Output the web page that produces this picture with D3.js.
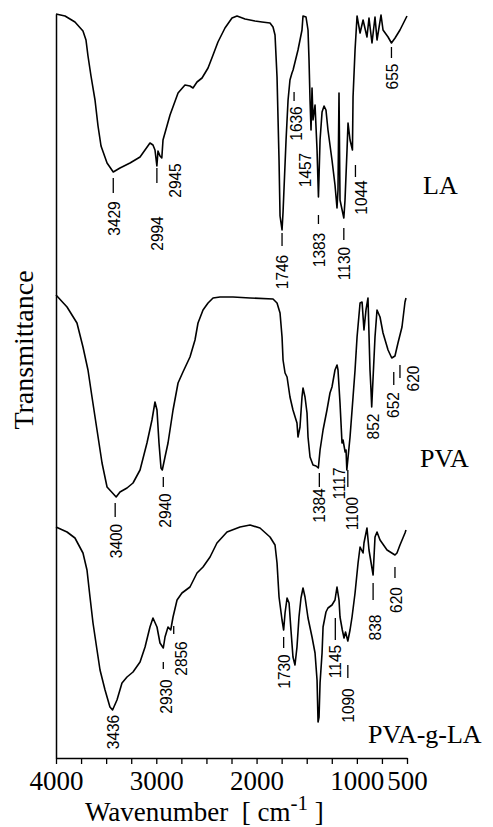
<!DOCTYPE html>
<html>
<head>
<meta charset="utf-8">
<script src="https://cdn.jsdelivr.net/npm/d3@7"></script>
<style>
  html, body { margin: 0; padding: 0; background: #fff; }
  svg { display: block; }
</style>
</head>
<body>
<svg id="chart" width="493" height="827"></svg>
<script>
// FTIR spectra of LA, PVA and PVA-g-LA, stacked with a vertical offset (arbitrary units)

// LA
const laWn = [4000,3910,3811,3731,3701,3681,3651,3611,3581,3551,3491,3429,3362,3262,3162,3063,3033,3013,2994,2983,2963,2945,2933,2863,2783,2714,2664,2634,2594,2544,2484,2434,2385,2315,2245,2195,2115,2016,1946,1866,1836,1816,1796,1776,1766,1746,1736,1706,1686,1667,1647,1636,1587,1547,1537,1507,1487,1477,1467,1457,1447,1437,1417,1397,1383,1367,1347,1327,1308,1288,1248,1218,1198,1188,1178,1168,1130,1118,1098,1088,1068,1044,1038,1018,998,968,938,899,879,849,819,799,759,739,689,655,619,570,510,500];
const laT  = [372,371,368,363.5,359,351,341,329,316,306,297.5,293,295,297.5,300.5,307.5,306.5,304,296,303.5,301,300,309,321.5,332.5,336.5,336,335,338,340,345,351.5,358,365,370,371,369.5,368.5,368,367.5,365.5,361.5,340.5,299,271,264,273,309,329,339,342.5,344,354,364,371,370.5,364,349,329,314,335,319,326.5,304,280.5,309,323,326,324,314,299,286.5,275,284,332.5,279,270,279,304,317.5,309,304,330.5,354,371,362.5,369,360.5,370,357.5,370.5,359,371.5,364,360.5,357.5,360,364,370,371];

// PVA
const pvaWn = [4000,3890,3791,3731,3681,3641,3591,3541,3491,3400,3362,3292,3232,3162,3093,3043,3013,2993,2973,2953,2940,2913,2883,2833,2783,2734,2664,2614,2584,2534,2484,2434,2365,2235,2065,1836,1796,1766,1746,1736,1716,1696,1667,1637,1597,1587,1567,1547,1537,1517,1497,1487,1467,1437,1407,1384,1367,1337,1298,1268,1248,1218,1198,1188,1168,1148,1138,1117,1108,1100,1068,1038,1018,998,968,948,929,909,889,869,859,852,819,799,769,739,689,652,620,590,550,520,510];
const pvaT  = [231.5,225.5,217.5,205.5,194,180.5,164,147.5,135.5,130.5,133,135,137.5,144,157.5,169,178,174,157.5,145,144,150.5,157.5,174,187.5,193,200.5,209,217.5,224,227.5,230,230.5,230.5,230,229.5,227.5,222.5,210.5,199,192.5,190.5,180.5,174,167.5,160.5,165.5,180.5,185,180.5,172.5,160.5,150.5,146.5,146,145,154,164,174,182.5,185.5,194,196.5,194,177.5,157.5,159,153,154,144,160.5,180.5,194,210.5,227.5,228,214,224,230,194,184,175.5,210.5,224,220.5,212.5,204,200,201,207.5,215.5,228,230];

// PVA-g-LA
const graftWn = [4000,3890,3811,3731,3691,3661,3631,3591,3561,3511,3462,3436,3392,3342,3292,3232,3162,3112,3063,3033,2993,2963,2930,2913,2883,2856,2833,2793,2744,2664,2594,2534,2464,2395,2295,2165,2065,1966,1866,1816,1796,1776,1746,1730,1716,1696,1676,1657,1637,1617,1597,1577,1557,1537,1517,1487,1447,1417,1397,1387,1377,1367,1347,1337,1308,1288,1248,1218,1198,1178,1168,1145,1128,1113,1090,1068,1048,1018,988,968,938,929,909,899,879,838,819,799,769,699,620,600,570,520,510];
const graftT  = [115.5,113,110,102.5,94,80.5,67.5,54,44,34,25.5,24,29,37.5,40.5,43,48,55.5,65.5,70,65.5,57.5,55,60.5,65.5,64,70.5,79,82.5,85.5,92.5,95.5,100.5,107.5,113,115.5,116.5,115,110.5,106.5,97.5,80.5,69,64,72.5,80,77.5,64,50.5,46.5,55.5,70.5,80,85,80.5,70,60.5,52.5,39,18,20.5,37.5,52.5,65.5,73,75,76.5,79,85.5,79,70.5,64,60,63,58.5,64,70.5,82.5,97.5,105.5,102.5,107.5,112.5,115,104,91.5,110.5,113,109,104,101.5,102.5,106.5,112.5,114];

// Peak assignments (cm-1) for each spectrum
const laPeaks    = [3429, 2994, 2945, 1746, 1636, 1457, 1383, 1130, 1044, 655];
const pvaPeaks   = [3400, 2940, 1384, 1117, 1100, 852, 652, 620];
const graftPeaks = [3436, 2930, 2856, 1730, 1145, 1090, 838, 620];

const seriesNames = ["LA", "PVA", "PVA-g-LA"];

// Axis ticks
const xTickValues = [4000,3750,3500,3250,3000,2750,2500,2250,2000,1750,1500,1250,1000,750,500];
const xTickLabels = [4000, 3000, 2000, 1000, 500];

// ---------- layout ----------
const plotLeft = 56, plotRight = 407, plotTop = 14, plotBottom = 758;

// annotation layout: text centre dx, text centre y, peak-marker [top, bottom] (null = none), marker dx
const laLayout = [
  {dx: 0, ty: 218.5, tick: [178, 193], tdx: 0},
  {dx: 0, ty: 233.5, tick: [168, 183], tdx: 0},
  {dx: 13, ty: 180.5, tick: null, tdx: 0},
  {dx: 0, ty: 272, tick: [233, 246], tdx: 0},
  {dx: 3, ty: 123.5, tick: [92, 101], tdx: 1},
  {dx: -6, ty: 170, tick: null, tdx: 0},
  {dx: 0, ty: 250, tick: [215, 224], tdx: 0},
  {dx: 0, ty: 263.5, tick: [228, 240], tdx: 0},
  {dx: 8, ty: 197.5, tick: [165, 177], tdx: 3},
  {dx: 0, ty: 76.5, tick: [47, 58], tdx: 0}
];
const pvaLayout = [
  {dx: -1, ty: 541, tick: [503, 517], tdx: -1},
  {dx: 2, ty: 510.5, tick: [477, 487], tdx: 1},
  {dx: 0, ty: 505.5, tick: [473, 487], tdx: 1},
  {dx: -6, ty: 483.5, tick: null, tdx: 0},
  {dx: 5, ty: 513.5, tick: [470, 487], tdx: 1},
  {dx: 1, ty: 426.5, tick: null, tdx: 0},
  {dx: 1, ty: 405, tick: [372, 385], tdx: 2},
  {dx: 18, ty: 378.5, tick: [365, 378], tdx: 5}
];
const graftLayout = [
  {dx: 0, ty: 732, tick: null, tdx: 0},
  {dx: 2, ty: 696.5, tick: [662, 669], tdx: 0},
  {dx: 10, ty: 658.5, tick: [626, 634], tdx: 3},
  {dx: 0, ty: 671.5, tick: [637, 648], tdx: 0},
  {dx: -8, ty: 661.5, tick: [618, 640], tdx: -7},
  {dx: 0, ty: 705.5, tick: [665, 678], tdx: 0},
  {dx: 2, ty: 627.5, tick: [583, 600], tdx: 0},
  {dx: 1, ty: 600, tick: [567, 578], tdx: 0}
];
const nameLayout = [
  {x: 423, y: 194},
  {x: 420, y: 467},
  {x: 368, y: 743}
];

const serif = "'Liberation Serif', 'Times New Roman', serif";
const sans = "'Liberation Sans', Arial, sans-serif";

const svg = d3.select("#chart");

const x = d3.scaleLinear().domain([4000, 500]).range([plotLeft, plotRight]);
const y = d3.scaleLinear().domain([0, 372]).range([plotBottom, plotTop]);

const line = d3.line()
  .x(d => x(d[0]))
  .y(d => y(d[1]));

const spectra = [
  d3.zip(laWn, laT),
  d3.zip(pvaWn, pvaT),
  d3.zip(graftWn, graftT)
];

svg.append("g")
  .selectAll("path")
  .data(spectra)
  .join("path")
  .attr("d", line)
  .attr("fill", "none")
  .attr("stroke", "#000")
  .attr("stroke-width", 1.6)
  .attr("stroke-linejoin", "round");

// bottom axis
const xAxis = d3.axisBottom(x)
  .tickValues(xTickValues)
  .tickSize(6)
  .tickSizeOuter(0)
  .tickFormat(d => xTickLabels.includes(d) ? String(d) : "");

const gx = svg.append("g")
  .attr("transform", `translate(0,${plotBottom})`)
  .call(xAxis);
gx.select(".domain").attr("stroke", "#000").attr("stroke-width", 1.5);
gx.selectAll(".tick line").attr("stroke", "#000").attr("stroke-width", 1.3);
gx.selectAll(".tick text")
  .attr("y", 13)
  .attr("fill", "#000")
  .style("font-family", serif)
  .style("font-size", "27px");

// left axis (line only)
const gy = svg.append("g")
  .attr("transform", `translate(${plotLeft},0)`)
  .call(d3.axisLeft(y).tickValues([]).tickSizeOuter(0));
gy.select(".domain").attr("stroke", "#000").attr("stroke-width", 1.5);

// axis titles
const xTitle = svg.append("text")
  .attr("x", 85)
  .attr("y", 821)
  .attr("fill", "#000")
  .attr("xml:space", "preserve")
  .style("white-space", "pre")
  .style("font-family", serif)
  .style("font-size", "27px");
xTitle.append("tspan").text("Wavenumber  [ cm");
xTitle.append("tspan").attr("dy", -11).style("font-size", "21px").text("-1");
xTitle.append("tspan").attr("dy", 11).text(" ]");

svg.append("text")
  .attr("transform", "translate(33,350) rotate(-90)")
  .attr("text-anchor", "middle")
  .attr("fill", "#000")
  .style("font-family", serif)
  .style("font-size", "28px")
  .text("Transmittance");

// peak annotations
function annotate(peaks, layout) {
  const g = svg.append("g");
  peaks.forEach((wn, i) => {
    const L = layout[i];
    const px = x(wn);
    if (L.tick) {
      g.append("line")
        .attr("x1", px + L.tdx).attr("x2", px + L.tdx)
        .attr("y1", L.tick[0]).attr("y2", L.tick[1])
        .attr("stroke", "#000").attr("stroke-width", 1.3);
    }
    g.append("text")
      .attr("transform", `translate(${px + L.dx},${L.ty}) rotate(-90) scale(1,1.12)`)
      .attr("text-anchor", "middle")
      .attr("dominant-baseline", "central")
      .attr("fill", "#000")
      .style("font-family", sans)
      .style("font-size", "15.5px")
      .text(String(wn));
  });
}
annotate(laPeaks, laLayout);
annotate(pvaPeaks, pvaLayout);
annotate(graftPeaks, graftLayout);

// spectrum names
svg.append("g")
  .selectAll("text")
  .data(seriesNames)
  .join("text")
  .attr("x", (d, i) => nameLayout[i].x)
  .attr("y", (d, i) => nameLayout[i].y)
  .attr("fill", "#000")
  .style("font-family", serif)
  .style("font-size", "26px")
  .text(d => d);
</script>
</body>
</html>
